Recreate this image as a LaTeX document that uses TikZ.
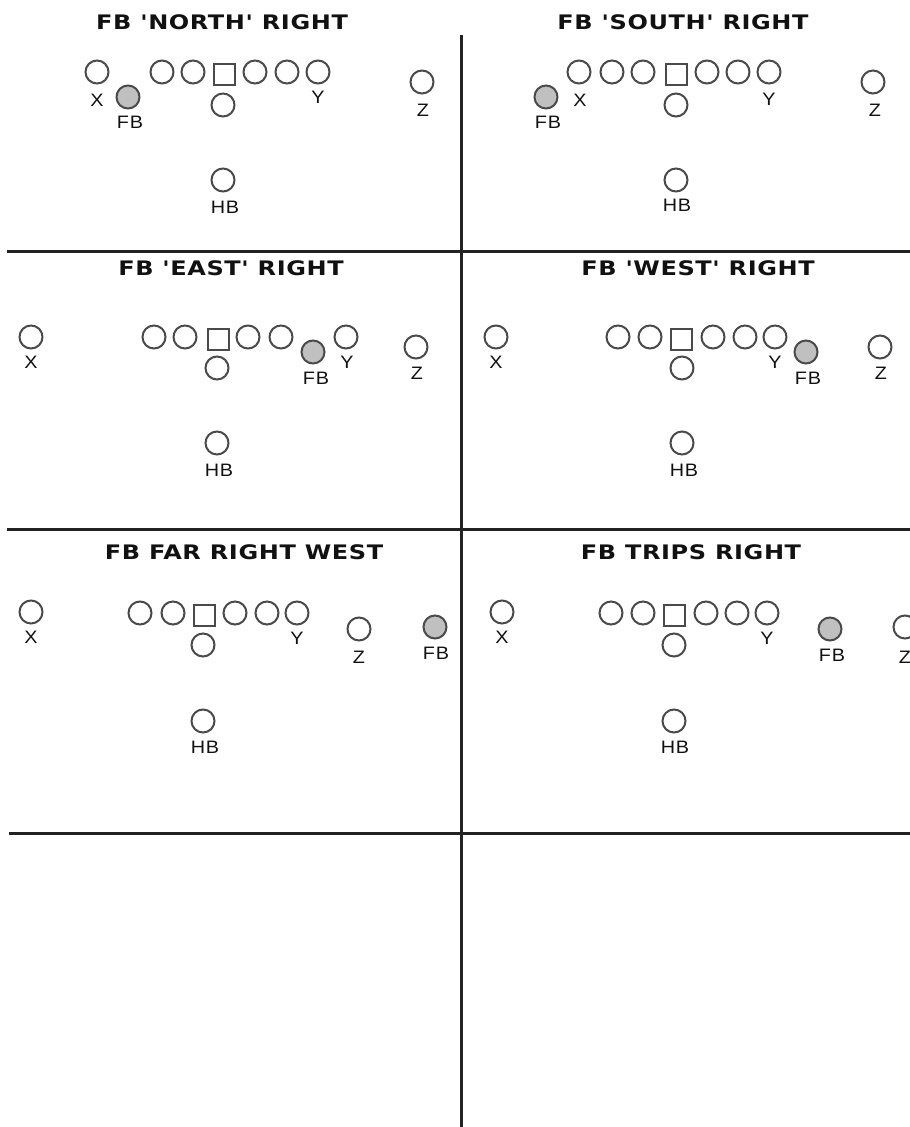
\documentclass[tikz,border=0pt]{standalone}
\usepackage{fontspec}
\newfontfamily\ttlfont[FakeStretch=1.2,LetterSpace=3]{DejaVu Sans Bold}
\newfontfamily\lblfont[FakeStretch=1.1,LetterSpace=5]{Liberation Sans}
\definecolor{pstroke}{HTML}{4A4A4A}
\definecolor{pfill}{HTML}{C0C0C0}
\definecolor{gridline}{HTML}{222222}
\definecolor{txt}{HTML}{111111}
\tikzset{
  player/.style={circle,draw=pstroke,line width=2pt,minimum size=23pt,inner sep=0pt},
  fbplayer/.style={player,fill=pfill},
  centre/.style={rectangle,draw=pstroke,line width=2pt,minimum size=21pt,inner sep=0pt},
  lbl/.style={inner sep=0pt,text=txt,font=\lblfont\fontsize{18}{18}\selectfont},
  ttl/.style={inner sep=0pt,text=txt,font=\ttlfont\fontsize{20}{20}\selectfont},
  grid/.style={draw=gridline,line width=3pt}
}
\begin{document}
\begin{tikzpicture}[x=1pt,y=-1pt]
\useasboundingbox (0,0) rectangle (910,1127);
\clip (0,0) rectangle (910,1127);
% grid lines
\coordinate (h1a) at (7,251); \coordinate (h1b) at (910,251);
\coordinate (h2a) at (7,529); \coordinate (h2b) at (910,529);
\coordinate (h3a) at (9,833); \coordinate (h3b) at (910,833);
\coordinate (va) at (461.5,35); \coordinate (vb) at (461.5,1127);
\draw[grid] (h1a) -- (h1b);
\draw[grid] (h2a) -- (h2b);
\draw[grid] (h3a) -- (h3b);
\draw[grid] (va) -- (vb);

% ---------- Panel 1 ----------
\node[ttl] (t1) at (222,22) {FB 'NORTH' RIGHT};
\node[player] (a1x) at (97,72) {};
\node[lbl] (a1xl) at (97,100) {X};
\node[fbplayer] (a1fb) at (128,97) {};
\node[lbl] (a1fbl) at (130,122) {FB};
\node[player] (a1l1) at (162,72) {};
\node[player] (a1l2) at (193,72) {};
\node[centre] (a1c) at (224,74) {};
\node[player] (a1l3) at (255,72) {};
\node[player] (a1l4) at (287,72) {};
\node[player] (a1y) at (318,72) {};
\node[lbl] (a1yl) at (318,97) {Y};
\node[player] (a1qb) at (223,105) {};
\node[player] (a1z) at (422,82) {};
\node[lbl] (a1zl) at (423,110) {Z};
\node[player] (a1hb) at (223,180) {};
\node[lbl] (a1hbl) at (225,207) {HB};

% ---------- Panel 2 ----------
\node[ttl] (t2) at (683,22) {FB 'SOUTH' RIGHT};
\node[fbplayer] (a2fb) at (546,97) {};
\node[lbl] (a2fbl) at (548,122) {FB};
\node[player] (a2x) at (579,72) {};
\node[lbl] (a2xl) at (580,100) {X};
\node[player] (a2l1) at (612,72) {};
\node[player] (a2l2) at (643,72) {};
\node[centre] (a2c) at (676,74) {};
\node[player] (a2l3) at (707,72) {};
\node[player] (a2l4) at (738,72) {};
\node[player] (a2y) at (769,72) {};
\node[lbl] (a2yl) at (769,99) {Y};
\node[player] (a2qb) at (676,105) {};
\node[player] (a2z) at (873,82) {};
\node[lbl] (a2zl) at (875,110) {Z};
\node[player] (a2hb) at (676,180) {};
\node[lbl] (a2hbl) at (677,205) {HB};

% ---------- Panel 3 ----------
\node[ttl] (t3) at (231,268) {FB 'EAST' RIGHT};
\node[player] (a3x) at (31,337) {};
\node[lbl] (a3xl) at (31,362) {X};
\node[player] (a3l1) at (154,337) {};
\node[player] (a3l2) at (185,337) {};
\node[centre] (a3c) at (218,339) {};
\node[player] (a3l3) at (248,337) {};
\node[player] (a3l4) at (281,337) {};
\node[fbplayer] (a3fb) at (313,352) {};
\node[lbl] (a3fbl) at (316,378) {FB};
\node[player] (a3y) at (346,337) {};
\node[lbl] (a3yl) at (347,362) {Y};
\node[player] (a3z) at (416,347) {};
\node[lbl] (a3zl) at (417,373) {Z};
\node[player] (a3qb) at (217,368) {};
\node[player] (a3hb) at (217,443) {};
\node[lbl] (a3hbl) at (219,470) {HB};

% ---------- Panel 4 ----------
\node[ttl] (t4) at (698,268) {FB 'WEST' RIGHT};
\node[player] (a4x) at (496,337) {};
\node[lbl] (a4xl) at (496,362) {X};
\node[player] (a4l1) at (618,337) {};
\node[player] (a4l2) at (650,337) {};
\node[centre] (a4c) at (681,339) {};
\node[player] (a4l3) at (713,337) {};
\node[player] (a4l4) at (745,337) {};
\node[player] (a4y) at (775,337) {};
\node[lbl] (a4yl) at (775,362) {Y};
\node[fbplayer] (a4fb) at (806,352) {};
\node[lbl] (a4fbl) at (808,378) {FB};
\node[player] (a4z) at (880,347) {};
\node[lbl] (a4zl) at (881,373) {Z};
\node[player] (a4qb) at (682,368) {};
\node[player] (a4hb) at (682,443) {};
\node[lbl] (a4hbl) at (684,470) {HB};

% ---------- Panel 5 ----------
\node[ttl] (t5) at (244,552) {FB FAR RIGHT WEST};
\node[player] (a5x) at (31,612) {};
\node[lbl] (a5xl) at (31,637) {X};
\node[player] (a5l1) at (140,613) {};
\node[player] (a5l2) at (173,613) {};
\node[centre] (a5c) at (204,615) {};
\node[player] (a5l3) at (235,613) {};
\node[player] (a5l4) at (267,613) {};
\node[player] (a5y) at (297,613) {};
\node[lbl] (a5yl) at (297,638) {Y};
\node[player] (a5qb) at (203,645) {};
\node[player] (a5z) at (359,629) {};
\node[lbl] (a5zl) at (359,657) {Z};
\node[fbplayer] (a5fb) at (435,627) {};
\node[lbl] (a5fbl) at (436,653) {FB};
\node[player] (a5hb) at (203,721) {};
\node[lbl] (a5hbl) at (205,747) {HB};

% ---------- Panel 6 ----------
\node[ttl] (t6) at (691,552) {FB TRIPS RIGHT};
\node[player] (a6x) at (502,612) {};
\node[lbl] (a6xl) at (502,637) {X};
\node[player] (a6l1) at (611,613) {};
\node[player] (a6l2) at (643,613) {};
\node[centre] (a6c) at (674,615) {};
\node[player] (a6l3) at (706,613) {};
\node[player] (a6l4) at (737,613) {};
\node[player] (a6y) at (767,613) {};
\node[lbl] (a6yl) at (767,638) {Y};
\node[player] (a6qb) at (674,645) {};
\node[fbplayer] (a6fb) at (830,629) {};
\node[lbl] (a6fbl) at (832,655) {FB};
\node[player] (a6z) at (905,627) {};
\node[lbl] (a6zl) at (905,657) {Z};
\node[player] (a6hb) at (674,721) {};
\node[lbl] (a6hbl) at (675,747) {HB};
\end{tikzpicture}
\end{document}
